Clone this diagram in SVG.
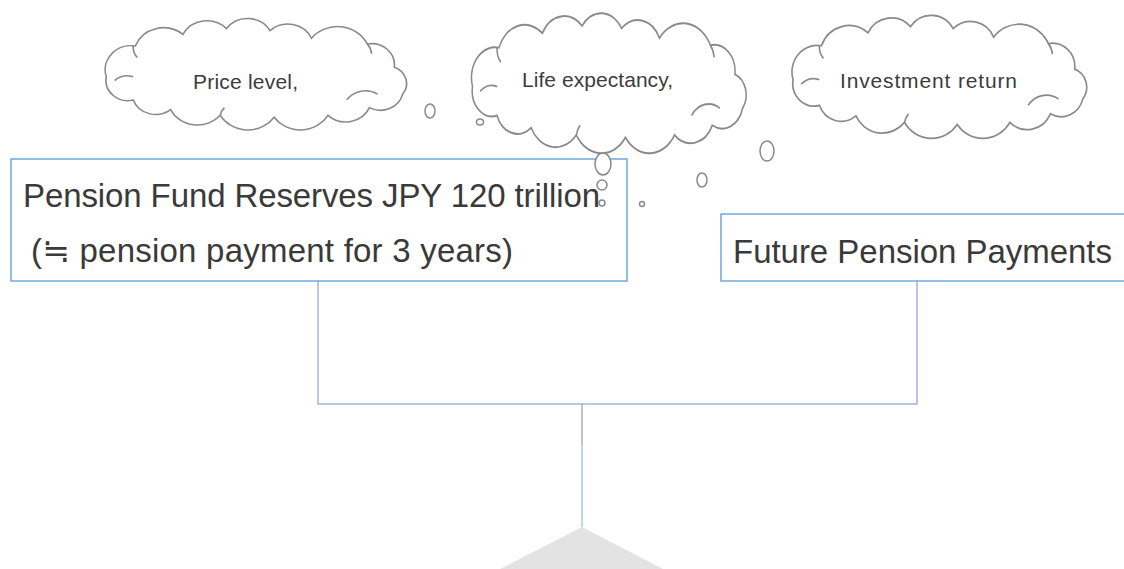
<svg xmlns="http://www.w3.org/2000/svg" width="1124" height="569" viewBox="0 0 1124 569">
<style>
.cloud{fill:#ffffff;stroke:#8a8a8a;stroke-width:1.6;vector-effect:non-scaling-stroke}
.curl{fill:none;stroke:#8a8a8a;stroke-width:1.6;vector-effect:non-scaling-stroke}
.bub{fill:#ffffff;stroke:#8a8a8a;stroke-width:1.5}
.ctext{font-family:"Liberation Sans",Arial,sans-serif;font-size:21px;fill:#3c3c3c}
.box{fill:#ffffff;stroke:#5b9bd5;stroke-width:1.3}
.btext{font-family:"Liberation Sans","DejaVu Sans",Arial,sans-serif;font-size:33px;fill:#3a3a3a}
.conn{fill:none;stroke:#a3b5dc;stroke-width:1.5}
</style>
<defs>
<path id="cloudShape" d="M 14 62 A 25 25 0 0 1 42 30 A 29 29 0 0 1 88 18 A 26 26 0 0 1 130 12 A 25 25 0 0 1 172 14 A 25 25 0 0 1 212 22 A 32 32 0 0 1 266 28 A 22 22 0 0 1 292 52 A 18 18 0 0 1 300 80 A 22 22 0 0 1 268 94 A 25 25 0 0 1 228 102 A 31 31 0 0 1 176 104 A 31 31 0 0 1 124 102 A 29 29 0 0 1 76 96 A 23 23 0 0 1 40 86 A 21 21 0 0 1 14 62 Z"/>
<path id="cloudCurls" d="M 22 66 A 18 18 0 0 1 40 62 M 246 86 A 22 22 0 0 1 276 80 M 40 30 A 16 16 0 0 0 44 42 M 266 28 A 18 18 0 0 1 270 38 M 124 102 A 16 16 0 0 1 128 94"/>
</defs>
<rect x="0" y="0" width="1124" height="569" fill="#ffffff"/>

<g id="connectors">
<polyline class="conn" points="318,281 318,404 917,404 917,281"/>
<line x1="582" y1="404" x2="582" y2="445" stroke="#b0b0b0" stroke-width="1.5"/>
<line x1="582" y1="445" x2="582" y2="527" stroke="#a9c9f1" stroke-width="1.5"/>
</g>

<g id="arrow-shape">
<polygon points="582,527 663,569 500,569" fill="#e3e3e3"/>
</g>

<g id="cloud-price">
<g transform="translate(91.8,17.1) scale(1.036,0.963)">
<use href="#cloudShape" class="cloud"/>
<use href="#cloudCurls" class="curl"/>
</g>
<text class="ctext" x="193" y="89" textLength="105">Price level,</text>
</g>

<g id="cloud-life">
<g transform="translate(459.3,11.4) scale(0.944,1.211)">
<use href="#cloudShape" class="cloud"/>
<use href="#cloudCurls" class="curl"/>
</g>
<text class="ctext" x="522" y="87" textLength="151">Life expectancy,</text>
</g>

<g id="cloud-investment">
<g transform="translate(778.9,13.8) scale(1.013,1.064)">
<use href="#cloudShape" class="cloud"/>
<use href="#cloudCurls" class="curl"/>
</g>
<text class="ctext" x="840" y="88" textLength="177">Investment return</text>
</g>

<g id="bubbles">
<ellipse class="bub" cx="430" cy="111" rx="5" ry="7"/>
<ellipse class="bub" cx="480" cy="122" rx="3.5" ry="3"/>
<ellipse class="bub" cx="702" cy="180" rx="5" ry="7"/>
<ellipse class="bub" cx="767" cy="151" rx="7" ry="10"/>
<circle class="bub" cx="642" cy="204" r="2.5"/>
</g>

<g id="node-reserves">
<rect class="box" x="11" y="159" width="616" height="122"/>
<text class="btext" x="23" y="207" textLength="577">Pension Fund Reserves JPY 120 trillion</text>
<text class="btext" x="31" y="262" textLength="482">(≒ pension payment for 3 years)</text>
</g>

<g id="bubbles-front">
<ellipse class="bub" cx="603" cy="164" rx="8" ry="11"/>
<circle class="bub" cx="602" cy="185" r="5"/>
<circle class="bub" cx="602" cy="203" r="3"/>
</g>

<g id="node-future">
<rect class="box" x="721" y="214" width="420" height="67"/>
<text class="btext" x="733" y="263" textLength="379">Future Pension Payments</text>
</g>
</svg>
